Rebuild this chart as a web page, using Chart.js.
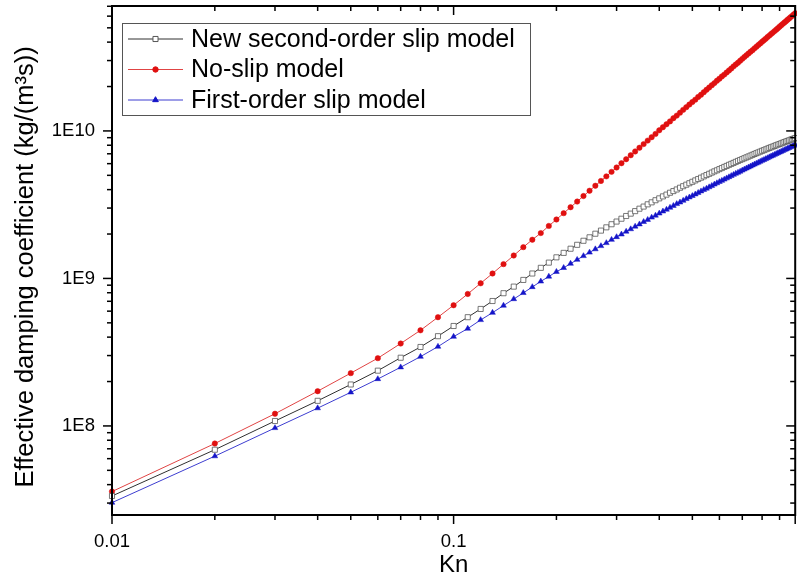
<!DOCTYPE html>
<html>
<head>
<meta charset="utf-8">
<script src="https://cdn.jsdelivr.net/npm/chart.js@4.4.1/dist/chart.umd.min.js"></script>
<style>
  html, body { margin: 0; padding: 0; background: #fff; overflow: hidden; }
  #wrap { width: 800px; height: 582px; }
</style>
</head>
<body>
<div id="wrap"><canvas id="grafico" width="800" height="582"></canvas></div>
<script>
// Kn, paso 0.01
const knValues = [
  0.01, 0.02, 0.03, 0.04, 0.05, 0.06, 0.07, 0.08, 0.09, 0.10,
  0.11, 0.12, 0.13, 0.14, 0.15, 0.16, 0.17, 0.18, 0.19, 0.20,
  0.21, 0.22, 0.23, 0.24, 0.25, 0.26, 0.27, 0.28, 0.29, 0.30,
  0.31, 0.32, 0.33, 0.34, 0.35, 0.36, 0.37, 0.38, 0.39, 0.40,
  0.41, 0.42, 0.43, 0.44, 0.45, 0.46, 0.47, 0.48, 0.49, 0.50,
  0.51, 0.52, 0.53, 0.54, 0.55, 0.56, 0.57, 0.58, 0.59, 0.60,
  0.61, 0.62, 0.63, 0.64, 0.65, 0.66, 0.67, 0.68, 0.69, 0.70,
  0.71, 0.72, 0.73, 0.74, 0.75, 0.76, 0.77, 0.78, 0.79, 0.80,
  0.81, 0.82, 0.83, 0.84, 0.85, 0.86, 0.87, 0.88, 0.89, 0.90,
  0.91, 0.92, 0.93, 0.94, 0.95, 0.96, 0.97, 0.98, 0.99, 1.00
];

const secondOrder = [
  3.35e7, 6.90e7, 1.08e8, 1.48e8, 1.91e8, 2.37e8, 2.90e8, 3.43e8, 4.06e8, 4.76e8,
  5.46e8, 6.21e8, 7.03e8, 7.94e8, 8.80e8, 9.77e8, 1.08e9, 1.18e9, 1.28e9, 1.39e9,
  1.49e9, 1.59e9, 1.69e9, 1.80e9, 1.90e9, 2.01e9, 2.11e9, 2.22e9, 2.33e9, 2.43e9,
  2.54e9, 2.65e9, 2.75e9, 2.86e9, 2.97e9, 3.07e9, 3.18e9, 3.28e9, 3.39e9, 3.49e9,
  3.60e9, 3.70e9, 3.81e9, 3.91e9, 4.01e9, 4.12e9, 4.22e9, 4.32e9, 4.42e9, 4.52e9,
  4.62e9, 4.72e9, 4.82e9, 4.92e9, 5.02e9, 5.12e9, 5.22e9, 5.32e9, 5.41e9, 5.51e9,
  5.60e9, 5.70e9, 5.79e9, 5.89e9, 5.98e9, 6.07e9, 6.17e9, 6.26e9, 6.35e9, 6.44e9,
  6.53e9, 6.62e9, 6.71e9, 6.80e9, 6.89e9, 6.98e9, 7.07e9, 7.15e9, 7.24e9, 7.33e9,
  7.41e9, 7.50e9, 7.58e9, 7.67e9, 7.75e9, 7.83e9, 7.91e9, 8.00e9, 8.08e9, 8.15e9,
  8.24e9, 8.32e9, 8.40e9, 8.48e9, 8.55e9, 8.63e9, 8.71e9, 8.79e9, 8.86e9, 8.94e9
];

const noSlip = [
  3.59e7, 7.60e7, 1.21e8, 1.72e8, 2.28e8, 2.88e8, 3.62e8, 4.45e8, 5.46e8, 6.58e8,
  7.85e8, 9.27e8, 1.08e9, 1.25e9, 1.43e9, 1.63e9, 1.83e9, 2.03e9, 2.27e9, 2.51e9,
  2.77e9, 3.04e9, 3.32e9, 3.62e9, 3.93e9, 4.25e9, 4.58e9, 4.92e9, 5.28e9, 5.65e9,
  6.04e9, 6.43e9, 6.84e9, 7.26e9, 7.69e9, 8.14e9, 8.60e9, 9.07e9, 9.55e9, 1.01e10,
  1.06e10, 1.11e10, 1.16e10, 1.22e10, 1.27e10, 1.33e10, 1.39e10, 1.45e10, 1.51e10, 1.57e10,
  1.63e10, 1.70e10, 1.76e10, 1.83e10, 1.90e10, 1.97e10, 2.04e10, 2.11e10, 2.19e10, 2.26e10,
  2.34e10, 2.41e10, 2.49e10, 2.57e10, 2.65e10, 2.74e10, 2.82e10, 2.90e10, 2.99e10, 3.08e10,
  3.17e10, 3.26e10, 3.35e10, 3.44e10, 3.53e10, 3.63e10, 3.72e10, 3.82e10, 3.92e10, 4.02e10,
  4.12e10, 4.22e10, 4.33e10, 4.43e10, 4.54e10, 4.64e10, 4.75e10, 4.86e10, 4.97e10, 5.09e10,
  5.20e10, 5.32e10, 5.43e10, 5.55e10, 5.67e10, 5.79e10, 5.91e10, 6.03e10, 6.15e10, 6.28e10
];

const firstOrder = [
  3.02e7, 6.24e7, 9.69e7, 1.32e8, 1.69e8, 2.08e8, 2.50e8, 2.95e8, 3.45e8, 4.03e8,
  4.57e8, 5.23e8, 5.86e8, 6.55e8, 7.25e8, 7.98e8, 8.75e8, 9.55e8, 1.03e9, 1.11e9,
  1.18e9, 1.26e9, 1.34e9, 1.42e9, 1.50e9, 1.58e9, 1.66e9, 1.74e9, 1.83e9, 1.91e9,
  1.99e9, 2.08e9, 2.16e9, 2.25e9, 2.33e9, 2.42e9, 2.50e9, 2.59e9, 2.67e9, 2.76e9,
  2.85e9, 2.93e9, 3.02e9, 3.11e9, 3.20e9, 3.28e9, 3.37e9, 3.46e9, 3.55e9, 3.63e9,
  3.72e9, 3.81e9, 3.90e9, 3.99e9, 4.07e9, 4.16e9, 4.25e9, 4.34e9, 4.43e9, 4.52e9,
  4.60e9, 4.69e9, 4.78e9, 4.87e9, 4.96e9, 5.05e9, 5.14e9, 5.22e9, 5.31e9, 5.40e9,
  5.49e9, 5.58e9, 5.67e9, 5.75e9, 5.85e9, 5.93e9, 6.02e9, 6.11e9, 6.20e9, 6.29e9,
  6.37e9, 6.46e9, 6.55e9, 6.64e9, 6.73e9, 6.81e9, 6.90e9, 6.99e9, 7.08e9, 7.16e9,
  7.25e9, 7.34e9, 7.43e9, 7.51e9, 7.60e9, 7.69e9, 7.77e9, 7.86e9, 7.94e9, 8.04e9
];

const seriesLabels = ['New second-order slip model', 'No-slip model', 'First-order slip model'];

const xTickValues = [0.01, 0.1];
const xTickLabels = ['0.01', '0.1'];
const yTickValues = [1e8, 1e9, 1e10];
const yTickLabels = ['1E8', '1E9', '1E10'];

const FUENTE = '"Liberation Sans", Arial, sans-serif';
Chart.defaults.font.family = FUENTE;
Chart.defaults.color = '#000';

function puntos(valores) {
  return knValues.map((k, i) => ({ x: k, y: valores[i] }));
}

// marco y marcas de los ejes (las 4 caras, como en Origin)
const marcoEjes = {
  id: 'marcoEjes',
  afterDatasetsDraw(chart) {
    const { ctx, chartArea: a, scales: { x, y } } = chart;
    const linea = (x1, y1, x2, y2) => {
      ctx.beginPath();
      ctx.moveTo(x1, y1);
      ctx.lineTo(x2, y2);
      ctx.stroke();
    };
    ctx.save();
    ctx.strokeStyle = '#000';
    ctx.lineWidth = 1.5;
    for (let e = -3; e <= 1; e++) {
      for (let m = 1; m <= 9; m++) {
        const v = m * Math.pow(10, e);
        if (v >= x.min * 0.999 && v <= x.max * 1.001) {
          const px = x.getPixelForValue(v);
          const len = m === 1 ? 9 : 5;
          linea(px, a.bottom, px, a.bottom + len);
          linea(px, a.top, px, a.top + len);
        }
      }
    }
    for (let e = 6; e <= 11; e++) {
      for (let m = 1; m <= 9; m++) {
        const v = m * Math.pow(10, e);
        if (v >= y.min && v <= y.max) {
          const py = y.getPixelForValue(v);
          const len = m === 1 ? 9 : 5;
          linea(a.left, py, a.left - len, py);
          linea(a.right, py, a.right - len, py);
        }
      }
    }
    ctx.lineWidth = 2;
    ctx.strokeRect(a.left, a.top, a.right - a.left, a.bottom - a.top);
    ctx.restore();
  }
};

// leyenda con recuadro dentro del area del grafico
const leyenda = {
  id: 'leyenda',
  afterDraw(chart) {
    const ctx = chart.ctx;
    ctx.save();
    ctx.fillStyle = '#fff';
    ctx.fillRect(122, 23, 408, 92);
    ctx.strokeStyle = '#555';
    ctx.lineWidth = 1;
    ctx.strokeRect(122.5, 23.5, 408, 92);
    chart.data.datasets.forEach((ds, i) => {
      const yy = 39 + i * 30.5;
      ctx.strokeStyle = ds.borderColor;
      ctx.lineWidth = 1;
      ctx.beginPath();
      ctx.moveTo(128, yy);
      ctx.lineTo(183, yy);
      ctx.stroke();
      ctx.fillStyle = ds.pointBackgroundColor;
      ctx.strokeStyle = ds.pointBorderColor;
      Chart.helpers.drawPoint(ctx, {
        pointStyle: ds.pointStyle,
        radius: ds.pointRadius,
        rotation: 0,
        borderWidth: ds.pointBorderWidth
      }, 155.5, yy);
      ctx.fillStyle = '#000';
      ctx.font = '25px ' + FUENTE;
      ctx.textBaseline = 'middle';
      ctx.textAlign = 'left';
      ctx.fillText(seriesLabels[i], 191, yy + 1);
    });
    ctx.restore();
  }
};

let grafico;

function dibujarGrafico() {
  const ctx = document.getElementById('grafico').getContext('2d');
  grafico = new Chart(ctx, {
    type: 'line',
    data: {
      datasets: [
        {
          label: seriesLabels[0],
          data: puntos(secondOrder),
          borderColor: '#303030',
          borderWidth: 1,
          pointStyle: 'rect',
          pointRadius: 3.6,
          pointBackgroundColor: '#ffffff',
          pointBorderColor: '#555555',
          pointBorderWidth: 0.8,
          clip: 5
        },
        {
          label: seriesLabels[1],
          data: puntos(noSlip),
          borderColor: '#e04444',
          borderWidth: 1,
          pointStyle: 'circle',
          pointRadius: 2.7,
          pointBackgroundColor: '#e01010',
          pointBorderColor: '#e01010',
          pointBorderWidth: 0.5,
          clip: 5
        },
        {
          label: seriesLabels[2],
          data: puntos(firstOrder),
          borderColor: '#3d3dd0',
          borderWidth: 1,
          pointStyle: 'triangle',
          pointRadius: 3.3,
          pointBackgroundColor: '#1414c8',
          pointBorderColor: '#1414c8',
          pointBorderWidth: 0.5,
          clip: 5
        }
      ]
    },
    options: {
      responsive: false,
      animation: false,
      devicePixelRatio: 1,
      events: [],
      layout: { padding: { top: 6, right: 2, left: 0, bottom: 0 } },
      plugins: {
        legend: { display: false },
        tooltip: { enabled: false }
      },
      scales: {
        x: {
          type: 'logarithmic',
          min: 0.01,
          max: 1,
          afterBuildTicks: (scale) => { scale.ticks = xTickValues.map(v => ({ value: v })); },
          afterFit: (scale) => {
            scale.height = 67;
            scale.paddingLeft = 0;
            scale.paddingRight = 0;
          },
          grid: { display: false, drawTicks: false },
          border: { display: false },
          ticks: {
            autoSkip: false,
            maxRotation: 0,
            padding: 16,
            font: { size: 18.5 },
            callback: (v, i) => xTickLabels[i]
          },
          title: {
            display: true,
            text: 'Kn',
            font: { size: 24 },
            padding: { top: 0, bottom: 2 }
          }
        },
        y: {
          type: 'logarithmic',
          min: 2.49e7,
          max: 7.03e10,
          afterBuildTicks: (scale) => { scale.ticks = yTickValues.map(v => ({ value: v })); },
          afterFit: (scale) => {
            scale.width = 112;
            scale.paddingTop = 0;
            scale.paddingBottom = 0;
          },
          grid: { display: false, drawTicks: false },
          border: { display: false },
          ticks: {
            autoSkip: false,
            padding: 17,
            font: { size: 18.5 },
            callback: (v, i) => yTickLabels[i]
          },
          title: {
            display: true,
            // el espacio final baja un poco el texto, como en el original
            text: 'Effective damping coefficient (kg/(m\u00b3s))\u2002',
            font: { size: 25.5 },
            padding: { top: 11, bottom: 0 }
          }
        }
      }
    },
    plugins: [marcoEjes, leyenda]
  });
}

document.addEventListener('DOMContentLoaded', () => {
  dibujarGrafico();
});
</script>
</body>
</html>
